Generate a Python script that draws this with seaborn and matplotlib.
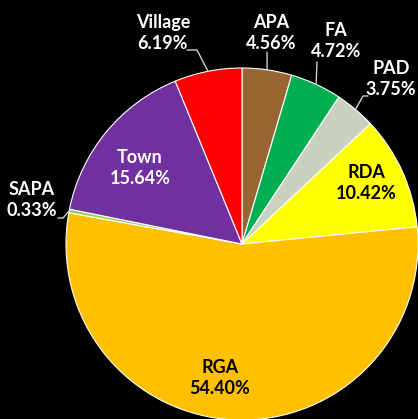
import seaborn as sns
import matplotlib.pyplot as plt
import numpy as np

# Shares per land category (%)
categories = ['APA', 'FA', 'PAD', 'RDA', 'RGA', 'SAPA', 'Town', 'Village']
shares = [4.56, 4.72, 3.75, 10.42, 54.40, 0.33, 15.64, 6.19]
colors = ['#996633', '#00B050', '#C9D1BF', '#FFFF00', '#FFC000', '#92D050', '#7030A0', '#FF0000']

sns.set_style('dark')
plt.rcParams['font.family'] = ['Lato', 'DejaVu Sans']

# pie is centred at pixel (242, 244) with a radius of 176 px
CX, CY, R = 242, 244, 176


def px(x, y):
    return ((x - CX) / R, (CY - y) / R)


fig = plt.figure(figsize=(4.18, 4.19), dpi=100, facecolor='black')
ax = fig.add_axes([0, 0, 1, 1])
ax.set_facecolor('black')
wedges, _ = ax.pie(shares, colors=sns.color_palette(colors), startangle=90, counterclock=False,
                   wedgeprops=dict(edgecolor='white', linewidth=0.8))
ax.set_xlim(-CX / R, (418 - CX) / R)
ax.set_ylim(-(419 - CY) / R, CY / R)
ax.set_aspect('auto')
ax.axis('off')

# label block centres (pixels), text colour, leader line bends (pixels)
label_pos = {'APA': (271, 33), 'FA': (336, 41), 'PAD': (391, 79), 'RDA': (366, 183),
             'RGA': (220, 378), 'SAPA': (32, 200), 'Town': (140, 168), 'Village': (163, 33)}
label_col = {'RDA': 'black', 'RGA': 'black'}
leaders = {'Village': [(197, 50), (187, 50)], 'APA': [(267, 52)], 'FA': [(317, 62)],
           'PAD': [(363, 96), (368, 96)], 'SAPA': [(63, 218), (58, 218)]}

for w, name, val in zip(wedges, categories, shares):
    x, y = px(*label_pos[name])
    ax.text(x, y, f'{name}\n{val:.2f}%', ha='center', va='center', fontsize=13,
            fontweight='bold', color=label_col.get(name, 'white'), linespacing=1.35)
    if name in leaders:
        mid = np.deg2rad((w.theta1 + w.theta2) / 2)
        pts = [(np.cos(mid), np.sin(mid))] + [px(*p) for p in leaders[name]]
        xs, ys = zip(*pts)
        ax.plot(xs, ys, color='#D0D0D0', lw=1)

fig.savefig('out.png', dpi=100, facecolor='black')
